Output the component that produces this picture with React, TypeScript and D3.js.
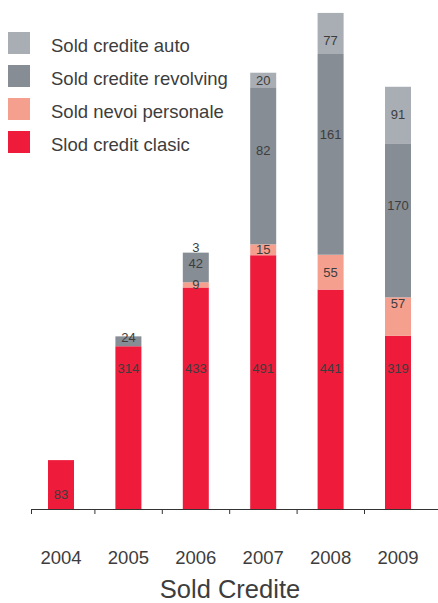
import { useEffect } from 'react';
import * as d3 from 'd3';

// Categories
const years = ['2004', '2005', '2006', '2007', '2008', '2009'];

// Printed values (as labelled in the source)
const clasicLabels = [83, 314, 433, 491, 441, 319];
const nevoiLabels: (number | null)[] = [null, null, 9, 15, 55, 57];
const revolvingLabels: (number | null)[] = [null, 24, 42, 82, 161, 170];
const autoLabels: (number | null)[] = [null, null, 3, 20, 77, 91];

// Segment heights as drawn in the source (the source is not to scale with its labels)
const clasicHeights = [94, 313, 426, 488, 422, 333];
const nevoiHeights = [0, 0, 10, 21, 67, 74];
const revolvingHeights = [0, 19, 57, 302, 386, 295];
const autoHeights = [0, 0, 0, 28, 79, 110];

const seriesKeys = ['clasic', 'nevoi', 'revolving', 'auto'];
const legendNames = ['Sold credite auto', 'Sold credite revolving', 'Sold nevoi personale', 'Slod credit clasic'];
const legendKeys = ['auto', 'revolving', 'nevoi', 'clasic'];
const title = 'Sold Credite';

const colors: Record<string, string> = {
  auto: '#a9aeb4',
  revolving: '#868d95',
  nevoi: '#f5a08f',
  clasic: '#ee1b3b',
};

const labelsByKey: Record<string, (number | null)[]> = {
  clasic: clasicLabels,
  nevoi: nevoiLabels,
  revolving: revolvingLabels,
  auto: autoLabels,
};

const W = 438;
const H = 603;
const FONT = '"Liberation Sans", Arial, Helvetica, sans-serif';
const TEXT = '#3d3d3d';

export default function App() {
  useEffect(() => {
    document.body.style.margin = '0';
  }, []);

  const table = years.map((y, i) => ({
    year: y,
    clasic: clasicHeights[i],
    nevoi: nevoiHeights[i],
    revolving: revolvingHeights[i],
    auto: autoHeights[i],
  }));

  const stacked = d3.stack<any>().keys(seriesKeys)(table);

  const baseline = 509;
  const x = d3.scalePoint<string>().domain(years).range([61, 398]);
  const y = d3.scaleLinear().domain([0, 1000]).range([baseline, baseline - 520]);
  const barW = 26;
  const tickOffset = 34;

  // label placement inside each segment
  const labelY = (key: string, top: number, bottom: number) => {
    const h = bottom - top;
    const mid = (top + bottom) / 2;
    if (h < 1) return top - 5;
    if (key === 'clasic') return h > 100 ? y(270) : bottom - 15;
    if (key === 'revolving') return h > 50 ? top + h * 0.4 : mid - 4;
    if (key === 'nevoi') return h > 37 ? top + 6 : mid;
    return Math.min(bottom - 7, top + 28);
  };

  return (
    <svg width={W} height={H} style={{ position: 'absolute', left: 0, top: 0, display: 'block' }} fontFamily={FONT}>
      <rect width={W} height={H} fill="#ffffff" />

      {/* Legend */}
      {legendKeys.map((k, i) => (
        <g key={k} transform={`translate(8,${32 + i * 33})`}>
          <rect width={22} height={22} fill={colors[k]} />
          <text x={43} y={20} fontSize={18.5} fill={TEXT}>{legendNames[i]}</text>
        </g>
      ))}

      {/* Bars */}
      {stacked.map((s) => (
        <g key={s.key}>
          {s.map((d, i) => {
            const top = y(d[1]);
            const bottom = y(d[0]);
            if (bottom - top <= 0) return null;
            return (
              <rect key={i} x={(x(years[i]) as number) - barW / 2} y={top} width={barW} height={bottom - top} fill={colors[s.key]} />
            );
          })}
        </g>
      ))}

      {/* Value labels */}
      {stacked.map((s) => (
        <g key={'l' + s.key}>
          {s.map((d, i) => {
            const v = labelsByKey[s.key][i];
            if (v == null) return null;
            const top = y(d[1]);
            const bottom = y(d[0]);
            return (
              <text key={i} x={x(years[i]) as number} y={labelY(s.key, top, bottom)} fontSize={13} fill={TEXT}
                textAnchor="middle" dominantBaseline="central">{v}</text>
            );
          })}
        </g>
      ))}

      {/* Axis */}
      <line x1={31} x2={W} y1={baseline + 0.5} y2={baseline + 0.5} stroke="#333" strokeWidth={1} />
      {years.map((yr, i) => (
        <line key={'t' + yr} x1={i === 0 ? 31.5 : (x(yr) as number) - tickOffset + 0.5} x2={i === 0 ? 31.5 : (x(yr) as number) - tickOffset + 0.5}
          y1={baseline} y2={baseline + 5} stroke="#333" strokeWidth={1} />
      ))}
      {years.map((yr) => (
        <text key={'y' + yr} x={x(yr) as number} y={564} fontSize={18.5} fill={TEXT} textAnchor="middle">{yr}</text>
      ))}

      <text x={230} y={598} fontSize={25.5} fill={TEXT} textAnchor="middle">{title}</text>
    </svg>
  );
}
